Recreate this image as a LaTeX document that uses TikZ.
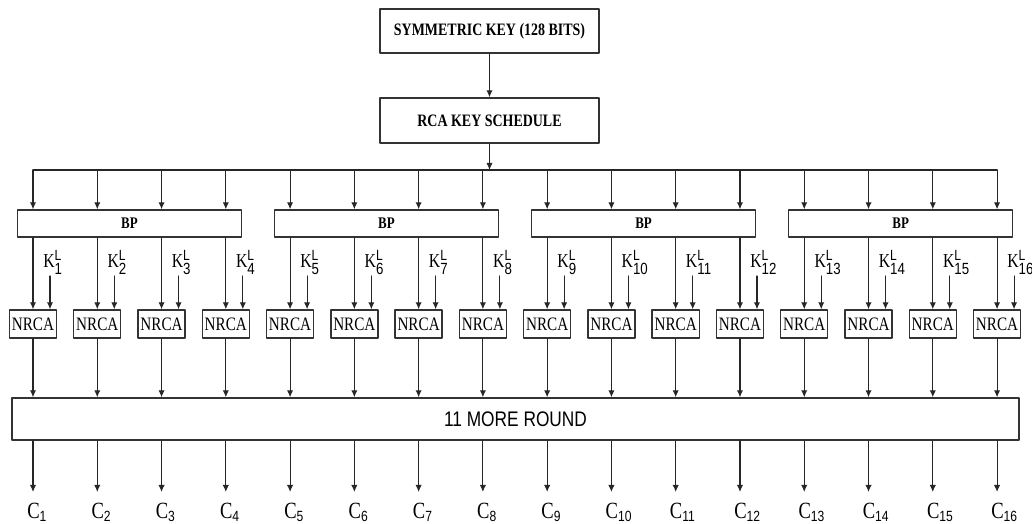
\documentclass[tikz,border=0pt]{standalone}
\usepackage{fontspec}
\setmainfont{Liberation Serif}
\newfontfamily\narrowserif[FakeStretch=0.8]{Liberation Serif}
\newfontfamily\narrowsans[FakeStretch=0.82]{Liberation Sans}
\usetikzlibrary{arrows.meta}

\newcommand\keylab[1]{K$^{\hbox{\narrowsans\fontsize{10.5}{10}\selectfont L}}_{\hbox{\narrowsans\fontsize{11.5}{11}\selectfont #1}}$}
\newcommand\outlab[1]{C$_{\hbox{\narrowsans\fontsize{10.5}{10}\selectfont #1}}$}

\tikzset{
  flow/.style={draw=black!85, line width=0.8pt, -{Latex[length=5pt,width=4.5pt]}},
  bus/.style={draw=black!85, line width=0.8pt},
  keybox/.style={draw=black!80, line width=1pt, inner sep=0pt, minimum width=5.475cm,
    font=\narrowserif\bfseries\fontsize{12.4}{14}\selectfont},
  bpbox/.style={draw=black!80, line width=1pt, inner sep=0pt, minimum width=5.6cm,
    minimum height=0.675cm, font=\narrowserif\bfseries\fontsize{11.5}{12}\selectfont},
  nrcabox/.style={draw=black!80, line width=1pt, inner sep=0pt, minimum width=1.175cm,
    minimum height=0.7cm, font=\narrowserif\fontsize{13.5}{15}\selectfont},
  roundbox/.style={draw=black!80, line width=1pt, inner sep=0pt, minimum width=25.175cm,
    minimum height=1.05cm, font=\narrowsans\fontsize{15}{16}\selectfont},
  klabel/.style={inner sep=0pt, font=\narrowserif\fontsize{14}{14}\selectfont},
  clabel/.style={inner sep=0pt, font=\narrowserif\fontsize{16.5}{16}\selectfont}
}

\begin{document}
\begin{tikzpicture}[x=0.025cm, y=-0.025cm, line cap=round, line join=round]
  \useasboundingbox (0,0) rectangle (1032,524);

  % key input and schedule
  \node[keybox, minimum height=1.1cm] (sym) at (489.5,31) {SYMMETRIC KEY (128 BITS)};
  \node[keybox, minimum height=1.125cm] (rca) at (489.5,120.5) {RCA KEY SCHEDULE};
  \coordinate (bus) at (489.5,170);
  \draw[flow] (sym) -- (rca);
  \draw[flow] (rca) -- (bus);

  % BP blocks
  \foreach \g in {1,...,4} {
    \pgfmathsetmacro\bx{33+64.27*(4*\g-4)+96.4}
    \node[bpbox] (bp\g) at (\bx,223.5) {BP};
  }

  \node[roundbox] (more) at (515.5,419) {11 MORE ROUND};

  % lanes
  \foreach \i in {1,...,16} {
    \pgfmathsetmacro\lx{33+64.27*(\i-1)}
    \pgfmathtruncatemacro\g{(\i-1)/4+1}
    \coordinate (t\i) at (\lx,170);
    \coordinate (ka\i) at (\lx+17,276);
    \coordinate (o\i) at (\lx,492);
    \node[nrcabox] (n\i) at (\lx,324) {NRCA};
    \node[klabel, anchor=base west] (k\i) at (\lx+10,268) {\keylab{\i}};
    \node[clabel, anchor=base west] (c\i) at (\lx-6,518) {\outlab{\i}};
    \draw[flow] (t\i) -- (t\i |- bp\g.north);
    \draw[flow] (t\i |- bp\g.south) -- (n\i.north);
    \draw[flow] (ka\i) -- (ka\i |- n\i.north);
    \draw[flow] (n\i.south) -- (n\i.south |- more.north);
    \draw[flow] (t\i |- more.south) -- (o\i);
  }
  \draw[bus] (t1) -- (t16);
\end{tikzpicture}
\end{document}
